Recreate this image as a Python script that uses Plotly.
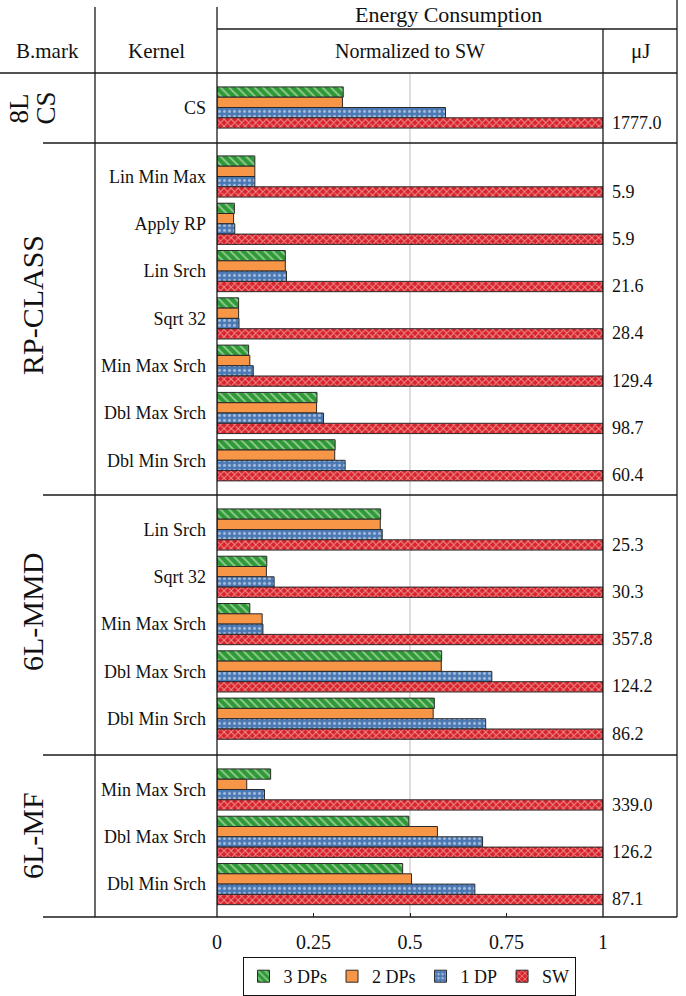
import plotly.graph_objects as go

# ---------------- data ----------------
series_names = ["3 DPs", "2 DPs", "1 DP", "SW"]

bench_labels = ["8L<br>CS", "RP-CLASS", "6L-MMD", "6L-MF"]

kernels_cs = ["CS"]
kernels_rp = ["Lin Min Max", "Apply RP", "Lin Srch", "Sqrt 32",
              "Min Max Srch", "Dbl Max Srch", "Dbl Min Srch"]
kernels_mmd = ["Lin Srch", "Sqrt 32", "Min Max Srch", "Dbl Max Srch", "Dbl Min Srch"]
kernels_mf = ["Min Max Srch", "Dbl Max Srch", "Dbl Min Srch"]

dp3_cs = [0.327]
dp2_cs = [0.325]
dp1_cs = [0.592]
sw_cs = [1.0]

dp3_rp = [0.098, 0.045, 0.177, 0.056, 0.082, 0.259, 0.306]
dp2_rp = [0.098, 0.043, 0.177, 0.056, 0.085, 0.258, 0.305]
dp1_rp = [0.098, 0.046, 0.180, 0.057, 0.094, 0.276, 0.332]
sw_rp = [1.0, 1.0, 1.0, 1.0, 1.0, 1.0, 1.0]

dp3_mmd = [0.424, 0.129, 0.085, 0.582, 0.563]
dp2_mmd = [0.423, 0.128, 0.117, 0.581, 0.560]
dp1_mmd = [0.428, 0.148, 0.119, 0.712, 0.696]
sw_mmd = [1.0, 1.0, 1.0, 1.0, 1.0]

dp3_mf = [0.139, 0.497, 0.481]
dp2_mf = [0.077, 0.571, 0.504]
dp1_mf = [0.123, 0.688, 0.668]
sw_mf = [1.0, 1.0, 1.0]

uj_cs = ["1777.0"]
uj_rp = ["5.9", "5.9", "21.6", "28.4", "129.4", "98.7", "60.4"]
uj_mmd = ["25.3", "30.3", "357.8", "124.2", "86.2"]
uj_mf = ["339.0", "126.2", "87.1"]

x_tickvals = [0, 0.25, 0.5, 0.75, 1]
x_ticktext = ["0", "0.25", "0.5", "0.75", "1"]

# ---------------- layout helpers (pixels -> paper) ----------------
W, H = 686, 996
L, RPX, T, B = 217, 603, 73, 917


def px(x):
    return (x - L) / (RPX - L)


def py(y):
    return (B - y) / (B - T)


FONT = "Liberation Serif"
LINE = "#1a1a1a"
TXT = "#111111"

styles = [
    dict(color="#2f9a35", pattern=dict(shape="\\", fgcolor="white", bgcolor="#2f9a35",
                                       size=6, solidity=0.3)),
    dict(color="#f79646", pattern=dict(shape="")),
    dict(color="#4a78b4", pattern=dict(shape=".", fgcolor="white", bgcolor="#4a78b4",
                                       size=5, solidity=0.3)),
    dict(color="#d8232a", pattern=dict(shape="x", fgcolor="white", bgcolor="#d8232a",
                                       size=5, solidity=0.35)),
]

sections = [
    (kernels_cs, [dp3_cs, dp2_cs, dp1_cs, sw_cs], uj_cs, (83.85, 131.15), 108),
    (kernels_rp, [dp3_rp, dp2_rp, dp1_rp, sw_rp], uj_rp, (152.85, 483.95), 305),
    (kernels_mmd, [dp3_mmd, dp2_mmd, dp1_mmd, sw_mmd], uj_mmd, (505.85, 742.35), 612),
    (kernels_mf, [dp3_mf, dp2_mf, dp1_mf, sw_mf], uj_mf, (765.85, 907.75), 836),
]

fig = go.Figure()
annotations = []
layout_axes = {}

for si, (kern, vals, uj, (ytop, ybot), lab_y) in enumerate(sections):
    yname = "y" if si == 0 else f"y{si + 1}"
    ykey = "yaxis" if si == 0 else f"yaxis{si + 1}"
    for ti, name in enumerate(series_names):
        st = styles[ti]
        fig.add_trace(go.Bar(
            x=vals[ti], y=kern, orientation="h", name=name,
            legendgroup=name, showlegend=(si == 0),
            xaxis="x", yaxis=yname,
            marker=dict(color=st["color"], pattern=st["pattern"],
                        line=dict(color="#2a2a2a", width=1)),
        ))
    layout_axes[ykey] = dict(
        domain=[py(ybot), py(ytop)], type="category",
        categoryorder="array", categoryarray=kern,
        range=[len(kern) - 0.5, -0.5], anchor="x",
        showgrid=False, zeroline=False, showline=False, ticks="",
        ticklabelstandoff=10,
        tickfont=dict(family=FONT, size=18, color=TXT),
    )
    for i, u in enumerate(uj):
        annotations.append(dict(
            xref="x", yref=yname, x=1, y=i, text=u, showarrow=False,
            xanchor="left", yanchor="middle", xshift=7, yshift=-15,
            font=dict(family=FONT, size=18, color=TXT),
        ))
    lines = bench_labels[si].split("<br>")
    n = len(lines)
    for li, part in enumerate(lines):
        xc = 32 + (li - (n - 1) / 2) * 27
        annotations.append(dict(
            xref="paper", yref="paper", x=px(xc), y=py(lab_y), text=part,
            showarrow=False, textangle=-90, xanchor="center", yanchor="middle",
            font=dict(family=FONT, size=30 if si else 27, color=TXT),
        ))

# header texts
for txt, xc, yc, fs in [("Energy Consumption", 448, 14, 22), ("B.mark", 47, 51, 21),
                        ("Kernel", 156, 51, 21), ("Normalized to SW", 410, 51, 20),
                        ("μJ", 640, 51, 21)]:
    annotations.append(dict(
        xref="paper", yref="paper", x=px(xc), y=py(yc), text=txt, showarrow=False,
        xanchor="center", yanchor="middle",
        font=dict(family=FONT, size=fs, color=TXT),
    ))

shapes = []


def hline(y, x0, x1, color=LINE, width=1.3):
    shapes.append(dict(type="line", xref="paper", yref="paper", x0=px(x0), x1=px(x1),
                       y0=py(y), y1=py(y), line=dict(color=color, width=width)))


def vline(x, y0, y1, color=LINE, width=1.3):
    shapes.append(dict(type="line", xref="paper", yref="paper", x0=px(x), x1=px(x),
                       y0=py(y0), y1=py(y1), line=dict(color=color, width=width)))


# grid line at 0.5
shapes.append(dict(type="line", xref="x", yref="paper", x0=0.5, x1=0.5, y0=0, y1=1,
                   line=dict(color="#c8c8c8", width=1.2), layer="below"))

hline(29, 217, 677)
hline(73, 0, 677)
hline(143, 43, 677)
hline(495, 43, 677)
hline(755, 43, 677)
hline(917, 43, 677)
vline(95, 7, 917)
vline(217, 7, 917)
vline(603, 29, 917)
vline(677, 0, 917)

fig.update_layout(
    width=W, height=H,
    margin=dict(l=L, r=W - RPX, t=T, b=H - B, autoexpand=False),
    paper_bgcolor="white", plot_bgcolor="white",
    barmode="group", bargap=0.13, bargroupgap=0,
    font=dict(family=FONT, color=TXT),
    xaxis=dict(range=[0, 1], anchor="free", position=0,
               tickvals=x_tickvals, ticktext=x_ticktext,
               showgrid=False, zeroline=False, showline=False,
               ticks="inside", ticklen=4, tickcolor=LINE,
               ticklabelstandoff=11,
               tickfont=dict(family=FONT, size=20, color=TXT)),
    legend=dict(orientation="h", x=px(409), xanchor="center", y=py(957), yanchor="top",
                bgcolor="white", bordercolor="#111", borderwidth=1,
                font=dict(family=FONT, size=18, color=TXT),
                itemwidth=30, traceorder="normal"),
    annotations=annotations, shapes=shapes,
    showlegend=True,
    **layout_axes,
)

fig.write_html("out.html", config={"displayModeBar": False},
               post_script="document.body.style.margin='0';")
